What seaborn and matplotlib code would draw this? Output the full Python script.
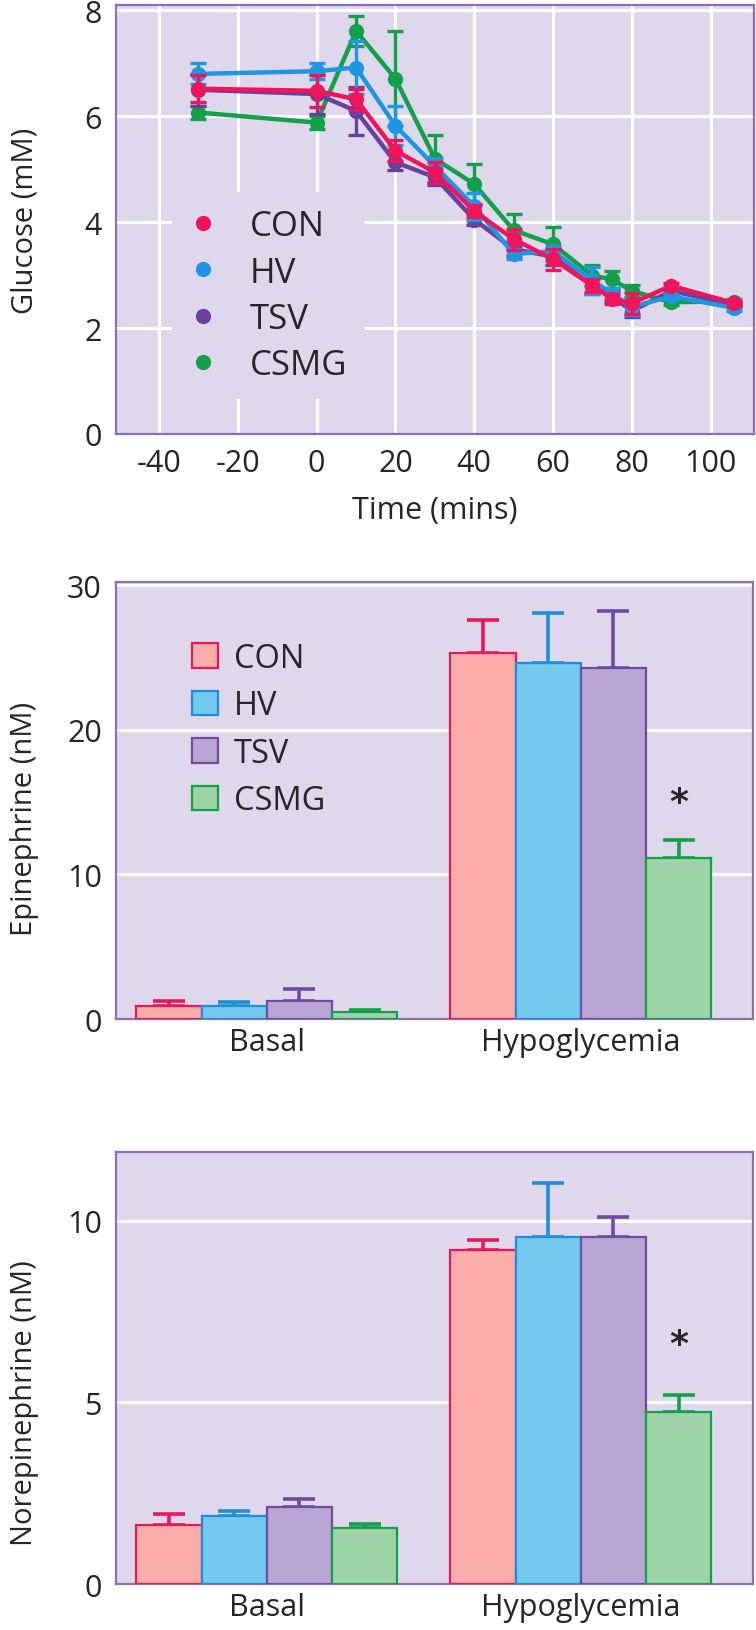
import numpy as np
import pandas as pd
import matplotlib
matplotlib.use('Agg')
import matplotlib.pyplot as plt
from matplotlib.lines import Line2D
import seaborn as sns

# ---- data ----
groups = ['CON', 'HV', 'TSV', 'CSMG']
times = [-30, 0, 10, 20, 30, 40, 50, 60, 70, 75, 80, 90, 106]

glc_con = [6.52, 6.48, 6.32, 5.35, 4.94, 4.21, 3.68, 3.30, 2.80, 2.55, 2.47, 2.80, 2.47]
glc_hv = [6.80, 6.85, 6.92, 5.82, 5.06, 4.30, 3.40, 3.45, 2.90, 2.65, 2.40, 2.60, 2.38]
glc_tsv = [6.50, 6.42, 6.10, 5.13, 4.85, 4.05, 3.49, 3.35, 2.80, 2.60, 2.32, 2.70, 2.45]
glc_csmg = [6.07, 5.88, 7.61, 6.71, 5.20, 4.72, 3.85, 3.58, 2.99, 2.92, 2.70, 2.49, 2.50]

err_con = [0.25, 0.30, 0.20, 0.20, 0.20, 0.12, 0.20, 0.20, 0.12, 0.10, 0.20, 0.05, 0.05]
err_hv = [0.20, 0.15, 0.50, 0.37, 0.15, 0.25, 0.10, 0.10, 0.25, 0.10, 0.15, 0.05, 0.05]
err_tsv = [0.30, 0.38, 0.46, 0.15, 0.15, 0.10, 0.12, 0.15, 0.15, 0.10, 0.12, 0.05, 0.05]
err_csmg = [0.12, 0.12, 0.28, 0.90, 0.45, 0.37, 0.30, 0.32, 0.20, 0.16, 0.12, 0.05, 0.05]

phases = ['Basal', 'Hypoglycemia']
epi_basal = [0.92, 0.92, 1.24, 0.50]
epi_basal_err = [0.34, 0.28, 0.87, 0.14]
epi_hypo = [25.3, 24.6, 24.3, 11.15]
epi_hypo_err = [2.3, 3.5, 3.9, 1.2]
ne_basal = [1.63, 1.88, 2.11, 1.53]
ne_basal_err = [0.30, 0.12, 0.23, 0.13]
ne_hypo = [9.18, 9.55, 9.55, 4.74]
ne_hypo_err = [0.28, 1.49, 0.56, 0.45]

# ---- colours ----
line_colors = {'CON': '#F0145A', 'HV': '#1E96E2', 'TSV': '#6B3FA0', 'CSMG': '#12A04A'}
fill_colors = {'CON': '#FBADAA', 'HV': '#74C9EE', 'TSV': '#B8A5D3', 'CSMG': '#9DD3A6'}
edge_colors = {'CON': '#E8185A', 'HV': '#1E8FD8', 'TSV': '#6F4CA0', 'CSMG': '#12A04A'}
bg = '#DFD8EC'
spine = '#8B6FB8'

sns.set_style('white', {'axes.facecolor': bg, 'axes.edgecolor': spine,
                        'grid.color': 'white'})
plt.rcParams['font.family'] = ['Open Sans', 'DejaVu Sans']
plt.rcParams['font.size'] = 22
plt.rcParams['axes.unicode_minus'] = False

fig = plt.figure(figsize=(7.56, 16.31), dpi=100)
ax1 = fig.add_axes([0.153, 0.7333, 0.8443, 0.2630])
ax2 = fig.add_axes([0.153, 0.3746, 0.843, 0.2678])
ax3 = fig.add_axes([0.153, 0.0282, 0.843, 0.2651])

# ---- glucose time course ----
glc = pd.DataFrame({
    'time': times * 4,
    'glucose': glc_con + glc_hv + glc_tsv + glc_csmg,
    'err': err_con + err_hv + err_tsv + err_csmg,
    'group': sum([[g] * len(times) for g in groups], []),
})

draw_order = ['CSMG', 'TSV', 'HV', 'CON']
for i, g in enumerate(draw_order):
    sub = glc[glc['group'] == g]
    sns.lineplot(data=sub, x='time', y='glucose', color=line_colors[g], marker='o',
                 markersize=11, markeredgewidth=0, linewidth=3.2, ax=ax1,
                 zorder=3 + i)
    ax1.errorbar(sub['time'], sub['glucose'], yerr=sub['err'], fmt='none',
                 ecolor=line_colors[g], elinewidth=2.4, capsize=5.5, capthick=2.4,
                 zorder=3 + i)

ax1.set_xlim(-51, 111)
ax1.set_ylim(0, 8.1)
ax1.set_xticks(range(-40, 101, 20))
ax1.set_yticks(range(0, 9, 2))
ax1.grid(True, color='white', linewidth=2.2)
ax1.set_axisbelow(True)
ax1.set_xlabel('Time (mins)', fontsize=22, labelpad=12)
ax1.set_ylabel('Glucose (mM)', fontsize=21)

handles = [Line2D([], [], marker='o', ls='', color=line_colors[g], markersize=11,
                  markeredgewidth=0) for g in groups]
leg = ax1.legend(handles, groups, loc='upper left', bbox_to_anchor=(0.088, 0.564),
                 frameon=True, facecolor=bg, edgecolor='none', borderaxespad=0,
                 framealpha=1, fancybox=False, borderpad=0.5, handlelength=0.8,
                 handletextpad=0.95, labelspacing=0.35, prop={'size': 25})
leg.set_zorder(2.5)


# ---- bar charts ----
def bar_panel(ax, basal, basal_err, hypo, hypo_err, ymax, yticks, star_y, legend):
    df = pd.DataFrame({
        'phase': ['Basal'] * 4 + ['Hypoglycemia'] * 4,
        'group': groups * 2,
        'value': basal + hypo,
        'err': basal_err + hypo_err,
    })
    sns.barplot(data=df, x='phase', y='value', hue='group', hue_order=groups,
                palette=fill_colors, width=0.83, errorbar=None, ax=ax,
                legend=False, saturation=1)
    for g, cont in zip(groups, ax.containers):
        for bar in cont:
            bar.set_edgecolor(edge_colors[g])
            bar.set_linewidth(1.6)
            bar.set_zorder(3)
    bar_containers = list(ax.containers)
    for g, cont in zip(groups, bar_containers):
        sub = df[df['group'] == g]
        xs = [b.get_x() + b.get_width() / 2 for b in cont]
        ax.errorbar(xs, sub['value'], yerr=[np.zeros(2), sub['err']], fmt='none',
                    ecolor=edge_colors[g], elinewidth=2.6, capsize=11.5,
                    capthick=2.6, zorder=2)
    last = bar_containers[3][1]
    ax.text(last.get_x() + last.get_width() / 2, star_y, '*', ha='center',
            va='center', fontsize=26, fontweight='bold', family='DejaVu Sans')
    ax.set_xlim(-0.481, 1.548)
    ax.set_ylim(0, ymax)
    ax.set_yticks(yticks)
    ax.yaxis.grid(True, color='white', linewidth=2.2)
    ax.set_axisbelow(True)
    ax.set_xlabel('')
    if legend:
        ax.legend(bar_containers, groups, loc='upper left',
                  bbox_to_anchor=(0.119, 0.863), frameon=False, borderpad=0,
                  borderaxespad=0, handlelength=0.8, handleheight=0.78,
                  handletextpad=0.5, labelspacing=0.44, prop={'size': 23.5})


bar_panel(ax2, epi_basal, epi_basal_err, epi_hypo, epi_hypo_err, 30.2, [0, 10, 20, 30], 15.0, True)
ax2.set_ylabel('Epinephrine (nM)', fontsize=21)
bar_panel(ax3, ne_basal, ne_basal_err, ne_hypo, ne_hypo_err, 11.9, [0, 5, 10], 6.6, False)
ax3.set_ylabel('Norepinephrine (nM)', fontsize=21)

for ax in (ax1, ax2, ax3):
    for s in ax.spines.values():
        s.set_color(spine)
        s.set_linewidth(1.6)
    ax.tick_params(length=0, labelsize=22)
    ax.tick_params(axis='y', pad=10)
    ax.tick_params(axis='x', pad=6)
ax1.tick_params(axis='x', pad=10)
ax1.yaxis.set_label_coords(-0.12, 0.5)
ax2.yaxis.set_label_coords(-0.12, 0.46)
ax3.yaxis.set_label_coords(-0.12, 0.42)

fig.savefig('out.png', dpi=100, facecolor='white')
